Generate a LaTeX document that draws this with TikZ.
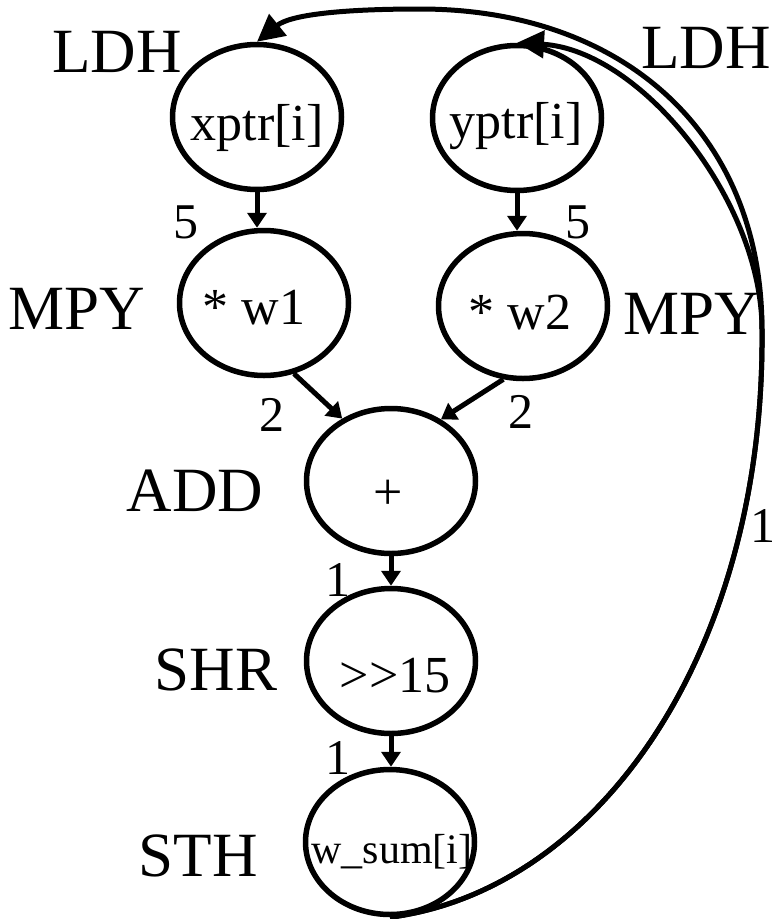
\documentclass[tikz,border=0pt]{standalone}
\usepackage{fontspec}
\setmainfont{Liberation Serif}
\usetikzlibrary{shapes.geometric,arrows.meta}
\begin{document}
\begin{tikzpicture}[x=1pt,y=-1pt,
  ell/.style={draw,ellipse,line width=5.5pt,minimum width=169pt,minimum height=145pt,inner sep=0pt},
  big/.style={inner sep=0pt,font=\fontsize{63}{70}\selectfont},
  txt/.style={inner sep=0pt,font=\fontsize{52}{60}\selectfont},
  num/.style={inner sep=0pt,font=\fontsize{50}{60}\selectfont},
  arr/.style={line width=5pt,-{Triangle[length=15pt,width=19pt]}},
  back/.style={line width=5pt,-{Triangle[length=27pt,width=27pt]}}]
\useasboundingbox (0,0) rectangle (776,919);
% operation nodes
\node[ell] (xptr) at (257,117) {};
\node[ell] (yptr) at (517,118) {};
\node[ell] (w1) at (264,303) {};
\node[ell] (w2) at (523,306) {};
\node[ell] (add) at (391,481) {};
\node[ell] (shr) at (391,661) {};
\node[ell] (sth) at (390,842) {};
% node texts
\node[txt] (txptr) at (257,128) {xptr[i]};
\node[txt] (typtr) at (516,126) {yptr[i]};
\node[txt] (tw1) at (254,308) {* w1};
\node[txt] (tw2) at (520,313) {* w2};
\node[txt] (tadd) at (388,495) {+};
\node[txt] (tshr) at (395,676) {>{}>15};
\node[inner sep=0pt,font=\fontsize{42}{50}\selectfont] (tsth) at (392,852) {w\_sum[i]};
% unit labels
\node[big] (lldh) at (117,52) {LDH};
\node[big] (rldh) at (706,48) {LDH};
\node[big] (lmpy) at (77,309) {MPY};
\node[big] (rmpy) at (692,314) {MPY};
\node[big] (ladd) at (195,491) {ADD};
\node[big] (lshr) at (216,670) {SHR};
\node[big] (lsth) at (198,856) {STH};
% latency labels
\node[num] (n1) at (186,222) {5};
\node[num] (n2) at (578,222) {5};
\node[num] (n3) at (272,415) {2};
\node[num] (n4) at (521,412) {2};
\node[num] (n5) at (338,580) {1};
\node[num] (n6) at (338,758) {1};
\node[num] (n7) at (763,526) {1};
% edges
\draw[arr] (xptr.south) -- (xptr.south |- w1.north);
\draw[arr] (yptr.south) -- (yptr.south |- w2.north);
\draw[arr] (w1.-67) -- (add.128);
\draw[arr] (w2.-105) -- (add.51);
\draw[arr] (add.south) -- (shr.north);
\draw[arr] (shr.south) -- (shr.south |- sth.north);
% feedback edges
\draw[back] (sth.south) .. controls (600,890) and (765,650) .. (762,330)
  .. controls (762,130) and (620,9) .. (420,9)
  .. controls (340,9) and (290,15) .. (xptr.north);
\draw[back] (sth.south) .. controls (600,890) and (765,650) .. (762,330)
  .. controls (762,200) and (640,50) .. (yptr.north);
\end{tikzpicture}
\end{document}
